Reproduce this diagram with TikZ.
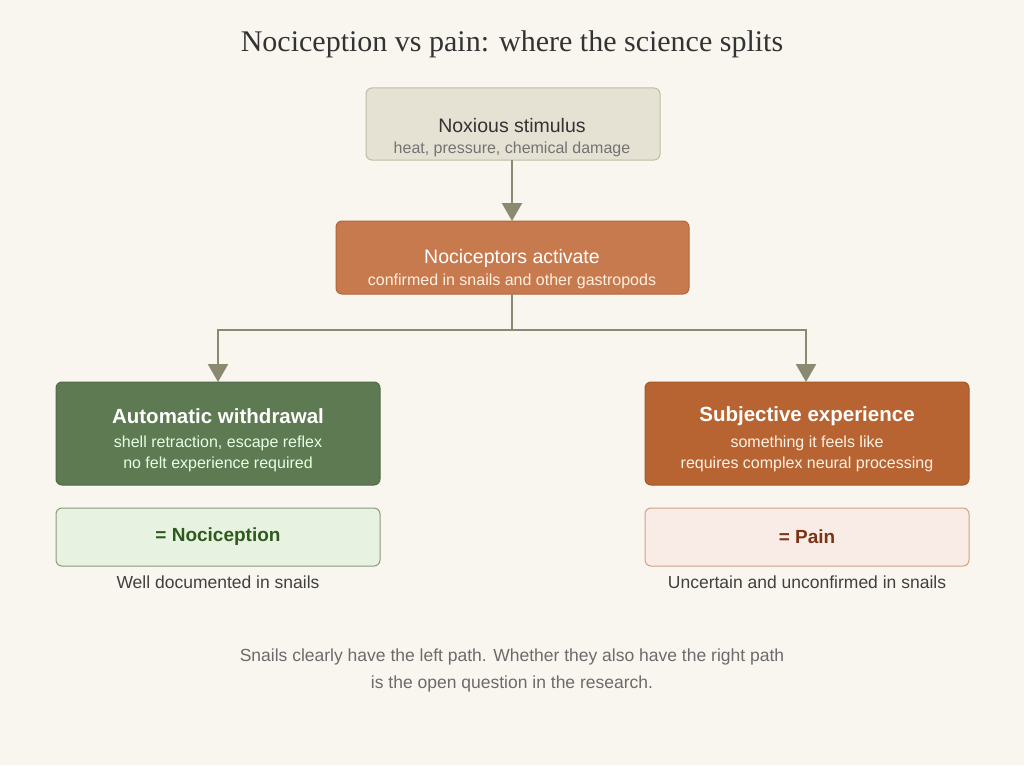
\documentclass[tikz,border=0pt]{standalone}
\usepackage{fontspec}
\setmainfont{Liberation Sans}
\newfontfamily\titlefont{Liberation Serif}
\usetikzlibrary{arrows.meta}
\definecolor{bg}{HTML}{F9F6EF}
\definecolor{ln}{HTML}{8A8A72}
\begin{document}
\begin{tikzpicture}[x=1pt,y=-1pt,
 box/.style={draw,rounded corners=6pt,line width=1pt},
 arr/.style={draw=ln,line width=2.4pt,-{Triangle[length=18pt,width=20pt]}}]
\fill[bg] (0,0) rectangle (1024,765);
\useasboundingbox (0,0) rectangle (1024,765);
\node[font=\titlefont\fontsize{30}{34}\selectfont,text=black!80] (t) at (512,44) {Nociception vs pain: where the science splits};
\path[box,fill={rgb,255:red,229;green,225;blue,211},draw={rgb,255:red,192;green,188;blue,166}] (366,88) rectangle (660,160);
\coordinate (b1) at (512,160);
\node[font=\fontsize{19.5}{22}\selectfont,text=black!80] (n1) at (512,126) {Noxious stimulus};
\node[font=\fontsize{16}{19}\selectfont,text=black!55] (n1s) at (512,149) {heat, pressure, chemical damage};
\path[box,fill={rgb,255:red,200;green,122;blue,79},draw={rgb,255:red,180;green,100;blue,60}] (336,221) rectangle (689,294);
\coordinate (b2t) at (512,221);
\coordinate (b2b) at (512,294);
\node[font=\fontsize{19.5}{22}\selectfont,text=white] (n2) at (512,258) {Nociceptors activate};
\node[font=\fontsize{16}{19}\selectfont,text=white!88!orange] (n2s) at (512,281) {confirmed in snails and other gastropods};
\draw[arr] (b1) -- (b2t);
\coordinate (j) at (512,330);
\coordinate (l) at (218,382);
\coordinate (r) at (806,382);
\draw[draw=ln,line width=2.4pt] (b2b) -- (j);
\draw[arr] (j) -| (l);
\draw[arr] (j) -| (r);
\path[box,fill={rgb,255:red,94;green,122;blue,82},draw={rgb,255:red,80;green,106;blue,70}] (56,382) rectangle (380,485);
\node[font=\bfseries\fontsize{20.5}{24}\selectfont,text=white] (n3) at (218,416) {Automatic withdrawal};
\node[font=\fontsize{16}{21}\selectfont,text=white!90!green,align=center] (n3s) at (218,454) {shell retraction, escape reflex\\no felt experience required};
\path[box,fill={rgb,255:red,184;green,100;blue,50},draw={rgb,255:red,165;green,85;blue,40}] (645,382) rectangle (969,485);
\node[font=\bfseries\fontsize{20.5}{24}\selectfont,text=white] (n4) at (807,416) {Subjective experience};
\node[font=\fontsize{16}{21}\selectfont,text=white!90!orange,align=center] (n4s) at (807,454) {something it feels like\\requires complex neural processing};
\path[box,fill={rgb,255:red,232;green,242;blue,224},draw={rgb,255:red,138;green,154;blue,122}] (56,508) rectangle (380,566);
\node[font=\bfseries\fontsize{19}{22}\selectfont,text={rgb,255:red,46;green,90;blue,28}] (n5) at (218,537) {= Nociception};
\path[box,fill={rgb,255:red,249;green,236;blue,230},draw={rgb,255:red,212;green,160;blue,128}] (645,508) rectangle (969,566);
\node[font=\bfseries\fontsize{19}{22}\selectfont,text={rgb,255:red,122;green,52;blue,24}] (n6) at (807,537) {= Pain};
\node[font=\fontsize{17.5}{20}\selectfont,text=black!75] (c1) at (218,582) {Well documented in snails};
\node[font=\fontsize{17.5}{20}\selectfont,text=black!75] (c2) at (807,582) {Uncertain and unconfirmed in snails};
\node[font=\fontsize{17.5}{27}\selectfont,text=black!58,align=center] (f) at (512,670) {Snails clearly have the left path. Whether they also have the right path\\is the open question in the research.};
\end{tikzpicture}
\end{document}
